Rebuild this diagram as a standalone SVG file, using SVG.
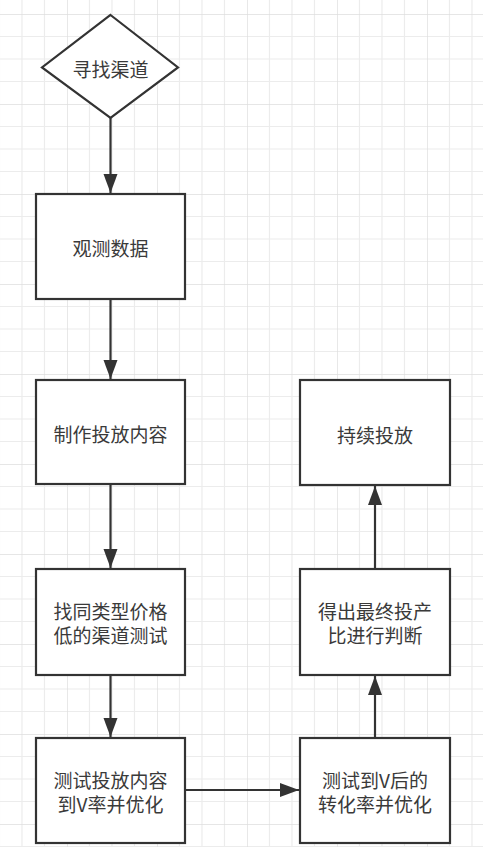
<svg xmlns="http://www.w3.org/2000/svg" width="483" height="847" viewBox="0 0 483 847">
  <style>
    .shape { fill: #ffffff; stroke: #333333; stroke-width: 2.2; }
    .label { font-family: "Noto Sans CJK SC", "Noto Sans", sans-serif; font-size: 19px; fill: #3a3a3a; text-anchor: middle; dominant-baseline: central; }
    .edge { fill: none; stroke: #333333; stroke-width: 2.2; marker-end: url(#arrow); }
  </style>
  <defs>
    <pattern id="grid" patternUnits="userSpaceOnUse" x="67" y="14" width="90" height="90">
      <path d="M22.5 0V90M45 0V90M67.5 0V90M0 22.5H90M0 45H90M0 67.5H90" stroke="#ececec" stroke-width="1.2" fill="none"/>
      <path d="M0 0V90M0 0H90" stroke="#dedede" stroke-width="1.4" fill="none"/>
    </pattern>
    <marker id="arrow" markerUnits="userSpaceOnUse" markerWidth="20" markerHeight="16" refX="19" refY="7" orient="auto">
      <path d="M0,0 L19,7 L0,14 Z" fill="#333333"/>
    </marker>
  </defs>
  <rect width="483" height="847" fill="#ffffff"/>
  <rect width="483" height="847" fill="url(#grid)"/>

  <g id="connectors">
    <path class="edge" d="M110.5,118 V193"/>
    <path class="edge" d="M110.5,299 V379"/>
    <path class="edge" d="M110.5,484 V568"/>
    <path class="edge" d="M110.5,675 V737"/>
    <path class="edge" d="M185,790 H299"/>
    <path class="edge" d="M375,738 V676"/>
    <path class="edge" d="M375,569 V486"/>
  </g>

  <g id="find-channel">
    <polygon class="shape" points="110.5,15 178,67.5 110.5,118 42,67.5"/>
    <text class="label" x="110.5" y="68">寻找渠道</text>
  </g>
  <g id="observe-data">
    <rect class="shape" x="36" y="194" width="149" height="105"/>
    <text class="label" x="110.5" y="247">观测数据</text>
  </g>
  <g id="make-content">
    <rect class="shape" x="36" y="380" width="149" height="104"/>
    <text class="label" x="110.5" y="433">制作投放内容</text>
  </g>
  <g id="test-cheap-channel">
    <rect class="shape" x="36" y="569" width="149" height="106"/>
    <text class="label" x="110.5" y="610"><tspan x="110.5" y="610">找同类型价格</tspan><tspan x="110.5" y="634">低的渠道测试</tspan></text>
  </g>
  <g id="test-content">
    <rect class="shape" x="36" y="738" width="149" height="105"/>
    <text class="label" x="110.5" y="779"><tspan x="110.5" y="779">测试投放内容</tspan><tspan x="110.5" y="803">到V率并优化</tspan></text>
  </g>
  <g id="test-conversion">
    <rect class="shape" x="300" y="738" width="150" height="105"/>
    <text class="label" x="375" y="779"><tspan x="375" y="779">测试到V后的</tspan><tspan x="375" y="803">转化率并优化</tspan></text>
  </g>
  <g id="roi-judge">
    <rect class="shape" x="300" y="569" width="150" height="106"/>
    <text class="label" x="375" y="610"><tspan x="375" y="610">得出最终投产</tspan><tspan x="375" y="634">比进行判断</tspan></text>
  </g>
  <g id="keep-investing">
    <rect class="shape" x="300" y="380" width="150" height="105"/>
    <text class="label" x="375" y="434">持续投放</text>
  </g>
</svg>
